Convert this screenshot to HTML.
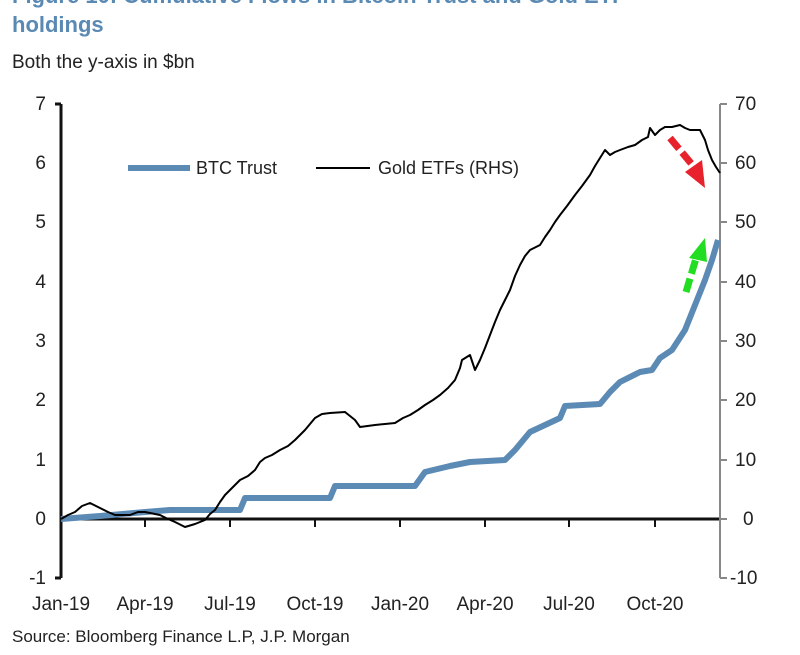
<!DOCTYPE html>
<html><head><style>
body{margin:0;background:#fff;width:800px;height:650px;overflow:hidden;font-family:"Liberation Sans",sans-serif;}
</style></head><body>
<svg width="800" height="650" xmlns="http://www.w3.org/2000/svg" font-family="Liberation Sans, sans-serif">
<text x="12" y="3" font-size="22" font-weight="bold" fill="#5a8ab3">Figure 10: Cumulative Flows in Bitcoin Trust and Gold ETF</text>
<text x="12" y="32" font-size="22" font-weight="bold" fill="#5a8ab3">holdings</text>
<text x="12" y="68" font-size="19" fill="#222">Both the y-axis in $bn</text>
<g stroke="#111" stroke-width="3" fill="none">
<line x1="61" y1="104" x2="61" y2="578"/>
<line x1="55" y1="104" x2="61" y2="104"/>
<line x1="55" y1="578" x2="61" y2="578"/>
<line x1="61" y1="519" x2="720" y2="519"/>
</g>
<g stroke="#111" stroke-width="2">
<line x1="145" y1="519" x2="145" y2="527"/><line x1="230" y1="519" x2="230" y2="527"/>
<line x1="315" y1="519" x2="315" y2="527"/><line x1="400" y1="519" x2="400" y2="527"/>
<line x1="485" y1="519" x2="485" y2="527"/><line x1="569" y1="519" x2="569" y2="527"/>
<line x1="655" y1="519" x2="655" y2="527"/>
</g>
<g stroke="#888" stroke-width="2" fill="none">
<line x1="720" y1="104" x2="720" y2="578"/>
<line x1="720" y1="104" x2="727" y2="104"/><line x1="720" y1="163" x2="727" y2="163"/>
<line x1="720" y1="222" x2="727" y2="222"/><line x1="720" y1="282" x2="727" y2="282"/>
<line x1="720" y1="341" x2="727" y2="341"/><line x1="720" y1="400" x2="727" y2="400"/>
<line x1="720" y1="460" x2="727" y2="460"/><line x1="720" y1="519" x2="727" y2="519"/>
<line x1="720" y1="578" x2="727" y2="578"/>
</g>
<g font-size="19" fill="#222" text-anchor="end">
<text x="46" y="110">7</text><text x="46" y="169">6</text><text x="46" y="228">5</text>
<text x="46" y="288">4</text><text x="46" y="347">3</text><text x="46" y="406">2</text>
<text x="46" y="466">1</text><text x="46" y="525">0</text><text x="46" y="584">-1</text>
</g>
<g font-size="19" fill="#222">
<text x="735" y="110">70</text><text x="735" y="169">60</text><text x="735" y="228">50</text>
<text x="735" y="288">40</text><text x="735" y="347">30</text><text x="735" y="406">20</text>
<text x="735" y="466">10</text><text x="743" y="525">0</text><text x="730" y="584">-10</text>
</g>
<g font-size="19" fill="#222" text-anchor="middle">
<text x="61" y="610">Jan-19</text><text x="145" y="610">Apr-19</text><text x="230" y="610">Jul-19</text>
<text x="315" y="610">Oct-19</text><text x="400" y="610">Jan-20</text><text x="485" y="610">Apr-20</text>
<text x="569" y="610">Jul-20</text><text x="655" y="610">Oct-20</text>
</g>
<text x="12" y="642" font-size="17" fill="#222">Source: Bloomberg Finance L.P, J.P. Morgan</text>
<line x1="128" y1="168" x2="190" y2="168" stroke="#5b8ab5" stroke-width="6"/>
<text x="196" y="174" font-size="18" fill="#222">BTC Trust</text>
<line x1="316" y1="168" x2="370" y2="168" stroke="#000" stroke-width="2"/>
<text x="378" y="174" font-size="18" fill="#222">Gold ETFs (RHS)</text>
<polyline fill="none" stroke="#5b8ab5" stroke-width="6" stroke-linejoin="round" points="61,519 100,516 145,512 170,510 240,510 245,498 330,498 335,486 415,486 425,472 450,466 470,462 505,460 515,450 530,432 545,425 560,418 565,406 600,404 610,392 620,382 640,372 652,370 660,358 672,350 685,330 695,305 705,280 712,260 718,240"/>
<polyline fill="none" stroke="#000" stroke-width="2" stroke-linejoin="round" points="61,519 68,515 75,512 82,506 90,503 100,508 108,512 115,515 130,515 138,512 145,512 160,515 168,519 175,522 185,527 195,524 205,520 210,514 215,510 220,502 225,495 232,488 240,480 248,476 255,470 260,462 265,458 272,455 280,450 288,446 295,440 305,430 310,424 315,418 322,414 330,413 345,412 350,416 355,420 360,427 375,425 385,424 395,423 403,418 410,415 418,410 425,405 433,400 440,395 448,388 455,380 460,368 462,360 470,355 475,370 480,360 485,348 490,335 495,322 500,310 505,300 510,290 515,276 520,265 525,256 530,250 540,245 545,237 550,230 555,222 560,215 567,206 575,195 582,186 590,175 595,166 600,158 605,150 610,155 615,152 620,150 628,147 635,145 642,140 648,137 650,128 655,135 660,130 665,127 672,127 680,125 685,128 690,130 700,130 705,140 708,150 712,160 716,167 720,173"/>
<g stroke="#e8222c" stroke-width="7" stroke-dasharray="14,5" fill="none"><line x1="670" y1="138" x2="695" y2="168"/></g>
<polygon points="685,172 702,160 705,188" fill="#e8222c"/>
<g stroke="#22dd22" stroke-width="7" stroke-dasharray="14,5" fill="none"><line x1="686" y1="292" x2="697" y2="255"/></g>
<polygon points="689,258 705,238 707,262" fill="#22dd22"/>
</svg>
</body></html>
